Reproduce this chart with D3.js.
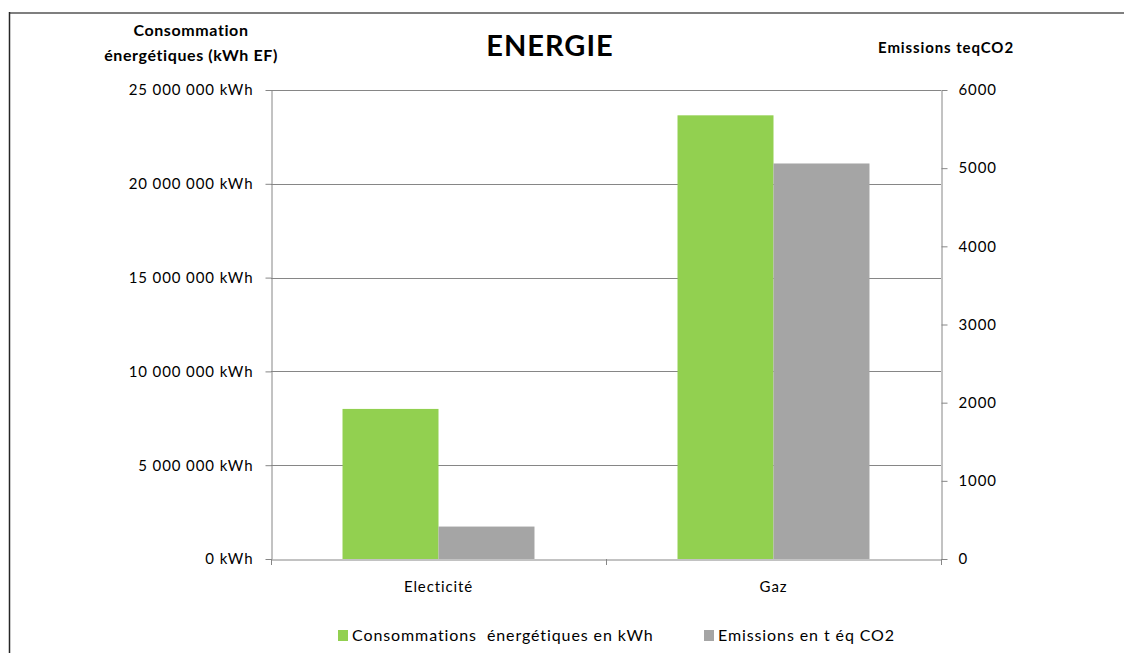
<!DOCTYPE html>
<html>
<head>
<meta charset="utf-8">
<script src="https://cdn.jsdelivr.net/npm/d3@7/dist/d3.min.js"></script>
<style>
  html, body { margin: 0; padding: 0; background: #fff; }
  svg { display: block; font-family: Lato, "Open Sans", sans-serif; }
</style>
</head>
<body>
<svg id="chart" width="1124" height="653"></svg>
<script>
// Energy categories and the two series plotted for each
const categories = ["Electicité", "Gaz"];
const consumptionKWh = [8000000, 23650000];   // left axis, kWh
const emissionsTCO2 = [415, 5060];            // right axis, t éq CO2
const leftTicks = [0, 5000000, 10000000, 15000000, 20000000, 25000000];
const rightTicks = [0, 1000, 2000, 3000, 4000, 5000, 6000];
const seriesNames = ["Consommations  énergétiques en kWh", "Emissions en t éq CO2"];
const seriesColors = ["#92D050", "#A5A5A5"];

const svg = d3.select("#chart");
const margin = { left: 271, right: 941, top: 90, bottom: 559 };

// frame around the chart
svg.append("line").attr("x1", 9).attr("x2", 1124).attr("y1", 13).attr("y2", 13)
  .attr("stroke", "#7f7f7f").attr("stroke-width", 2);
svg.append("line").attr("x1", 9.5).attr("x2", 9.5).attr("y1", 12).attr("y2", 653)
  .attr("stroke", "#262626").attr("stroke-width", 1.5);

const yLeft = d3.scaleLinear().domain([0, 25000000]).range([margin.bottom, margin.top]);
const yRight = d3.scaleLinear().domain([0, 6000]).range([margin.bottom, margin.top]);
const x0 = d3.scaleBand().domain(categories).range([margin.left, margin.right]).padding(0);
const x1 = d3.scaleBand().domain([0, 1]).range([0, x0.bandwidth()]).paddingInner(0).paddingOuter(0.745);

const fmtKWh = d => d3.format(",")(d).replace(/,/g, " ") + " kWh";

// horizontal gridlines
svg.append("g").selectAll("line").data(leftTicks.filter(d => d > 0)).join("line")
  .attr("x1", margin.left).attr("x2", margin.right)
  .attr("y1", d => Math.round(yLeft(d)) + 0.5).attr("y2", d => Math.round(yLeft(d)) + 0.5)
  .attr("stroke", "#868686").attr("stroke-width", 1);

// bars
const groups = svg.append("g").selectAll("g").data(categories).join("g")
  .attr("transform", d => `translate(${x0(d)},0)`);
groups.append("rect")
  .attr("x", x1(0)).attr("width", x1.bandwidth())
  .attr("y", (d, i) => yLeft(consumptionKWh[i]))
  .attr("height", (d, i) => margin.bottom - yLeft(consumptionKWh[i]))
  .attr("fill", seriesColors[0]);
groups.append("rect")
  .attr("x", x1(1)).attr("width", x1.bandwidth())
  .attr("y", (d, i) => yRight(emissionsTCO2[i]))
  .attr("height", (d, i) => margin.bottom - yRight(emissionsTCO2[i]))
  .attr("fill", seriesColors[1]);

// axes
function styleAxis(g) {
  g.select(".domain").attr("stroke", "#868686");
  g.selectAll(".tick line").attr("stroke", "#868686");
  g.selectAll(".tick text").attr("fill", "#000").attr("font-size", 15)
    .attr("letter-spacing", "0.9px")
    .attr("font-family", "Lato, 'Open Sans', sans-serif");
}
svg.append("g").attr("transform", `translate(${margin.left + 0.5},0)`)
  .call(d3.axisLeft(yLeft).tickValues(leftTicks).tickFormat(fmtKWh).tickSize(6).tickSizeOuter(0).tickPadding(12))
  .call(styleAxis);
svg.append("g").attr("transform", `translate(${margin.right + 0.5},0)`)
  .call(d3.axisRight(yRight).tickValues(rightTicks).tickFormat(d3.format("d")).tickSize(6).tickSizeOuter(0).tickPadding(11))
  .call(styleAxis);
const axB = svg.append("g").attr("transform", `translate(0,${margin.bottom + 0.5})`)
  .call(d3.axisBottom(x0).tickSize(0).tickPadding(22))
  .call(styleAxis);
axB.selectAll(".tick text").attr("font-size", 15);
// tick marks at category boundaries
svg.append("g").selectAll("line")
  .data([margin.left, x0(categories[1]), margin.right]).join("line")
  .attr("x1", d => Math.round(d) + 0.5).attr("x2", d => Math.round(d) + 0.5)
  .attr("y1", margin.bottom).attr("y2", margin.bottom + 6)
  .attr("stroke", "#868686");

// titles
svg.append("text").attr("x", 550).attr("y", 56).attr("text-anchor", "middle")
  .attr("font-size", 29).attr("font-weight", "bold").attr("letter-spacing", "1px").text("ENERGIE");
const lt = svg.append("text").attr("text-anchor", "middle").attr("font-size", 16)
  .attr("font-weight", "bold").attr("letter-spacing", "0.6px");
lt.append("tspan").attr("x", 191).attr("y", 36).text("Consommation");
lt.append("tspan").attr("x", 191).attr("y", 61).text("énergétiques (kWh EF)");
svg.append("text").attr("x", 946).attr("y", 53).attr("text-anchor", "middle")
  .attr("font-size", 15).attr("font-weight", "bold").attr("letter-spacing", "0.9px").text("Emissions teqCO2");

// legend
const legendX = [338, 704];
const lg = svg.append("g").selectAll("g").data(seriesNames).join("g")
  .attr("transform", (d, i) => `translate(${legendX[i]},630)`);
lg.append("rect").attr("width", 10).attr("height", 11).attr("fill", (d, i) => seriesColors[i]);
lg.append("text").attr("x", 14).attr("y", 11).attr("font-size", 16).attr("letter-spacing", "0.9px")
  .attr("xml:space", "preserve").style("white-space", "pre").text(d => d);
</script>
</body>
</html>
